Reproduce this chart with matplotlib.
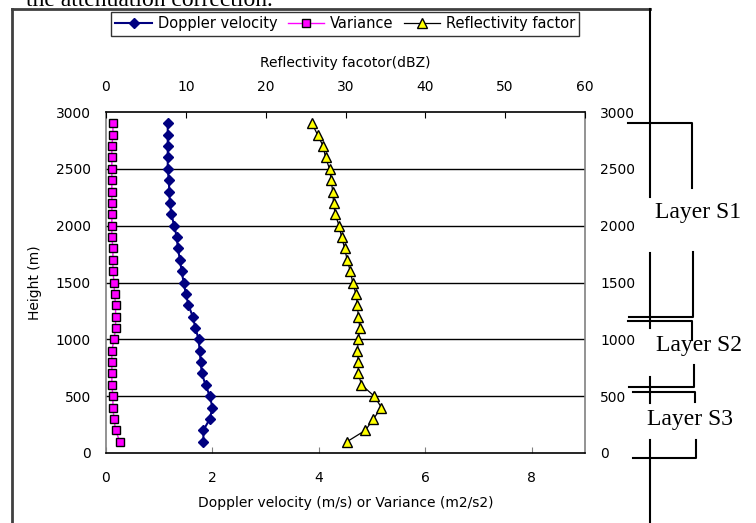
import numpy as np
import matplotlib
matplotlib.use("Agg")
import matplotlib.pyplot as plt
from matplotlib.lines import Line2D

# Heights of the range gates (m)
height = np.arange(2900, 0, -100)

# Doppler velocity (m/s), top to bottom
doppler = [1.16, 1.16, 1.16, 1.16, 1.16, 1.18, 1.19, 1.20, 1.23, 1.28,
           1.33, 1.35, 1.39, 1.42, 1.46, 1.50, 1.55, 1.63, 1.68, 1.74,
           1.76, 1.78, 1.80, 1.87, 1.95, 2.00, 1.95, 1.83, 1.83]

# Variance (m2/s2)
variance = [0.13, 0.13, 0.11, 0.11, 0.11, 0.11, 0.11, 0.11, 0.11, 0.11,
            0.11, 0.13, 0.13, 0.13, 0.15, 0.16, 0.18, 0.18, 0.18, 0.15,
            0.11, 0.11, 0.11, 0.11, 0.13, 0.13, 0.15, 0.18, 0.26]

# Reflectivity factor (dBZ)
reflectivity = [25.8, 26.5, 27.2, 27.5, 28.0, 28.2, 28.4, 28.5, 28.7, 29.2,
                29.5, 29.9, 30.2, 30.6, 30.9, 31.3, 31.5, 31.6, 31.8, 31.6,
                31.5, 31.6, 31.6, 32.0, 33.6, 34.5, 33.5, 32.5, 30.2]

bottom_ticks = [0, 2, 4, 6, 8]
top_ticks = [0, 10, 20, 30, 40, 50, 60]
height_ticks = [0, 500, 1000, 1500, 2000, 2500, 3000]

layers = ["Layer S1", "Layer S2", "Layer S3"]

W, H = 756, 523
fig = plt.figure(figsize=(W / 100, H / 100), dpi=100)
plt.rcParams["font.family"] = "DejaVu Sans"
FS = 10


def fx(x):
    return x / W


def fy(y):
    return 1 - y / H


ax = fig.add_axes([fx(106), fy(453), (585 - 106) / W, (453 - 112) / H])
ax.set_xlim(0, 9)
ax.set_ylim(0, 3000)

for y in height_ticks[1:-1]:
    ax.axhline(y, color="black", lw=1.0, zorder=1)

ax.plot(doppler, height, color="#000080", lw=1.5, marker="D", ms=5,
        mfc="#000080", mec="#000080", zorder=3, label="Doppler velocity")
ax.plot(variance, height, color="#FF00FF", lw=1.0, marker="s", ms=5.5,
        mfc="#FF00FF", mec="black", mew=1.0, zorder=3, label="Variance")

ax.set_xticks(bottom_ticks)
ax.set_yticks(height_ticks)
ax.tick_params(axis="x", direction="in", length=4, color="#808080",
               pad=13, labelsize=FS)
ax.tick_params(axis="y", length=0, pad=11, labelsize=FS,
               labelleft=True, labelright=True)
ax.set_xlabel("Doppler velocity (m/s) or Variance (m2/s2)", fontsize=FS,
              labelpad=8)
ax.set_ylabel("Height (m)", fontsize=FS, labelpad=10)
for side in ["left", "right"]:
    ax.spines[side].set_color("#808080")
    ax.spines[side].set_linewidth(1.2)
for side in ["top", "bottom"]:
    ax.spines[side].set_color("black")
    ax.spines[side].set_linewidth(1.2)

ax2 = ax.twiny()
ax2.set_xlim(0, 60)
ax2.plot(reflectivity, height, color="black", lw=0.9, marker="^", ms=6.5,
         mfc="#FFFF00", mec="black", mew=1.0, zorder=3,
         label="Reflectivity factor")
ax2.set_xticks(top_ticks)
ax2.tick_params(axis="x", direction="in", length=4, color="black",
                pad=13, labelsize=FS)
ax2.set_xlabel("Reflectivity facotor(dBZ)", fontsize=FS, labelpad=9)
for s in ax2.spines.values():
    s.set_visible(False)

handles = [ax.lines[-2], ax.lines[-1], ax2.lines[0]]
leg = fig.legend(handles, [h.get_label() for h in handles], ncol=3,
                 loc="upper left", bbox_to_anchor=(fx(111), fy(12)),
                 fontsize=10.5, frameon=True, fancybox=False, borderpad=0.3,
                 handlelength=2.5, handletextpad=0.4, columnspacing=0.7,
                 borderaxespad=0)
leg.get_frame().set_edgecolor("black")
leg.get_frame().set_linewidth(1.0)

# Page border and caption line above the chart
box = dict(color="#404040", lw=2)
fig.add_artist(Line2D([fx(12), fx(12)], [fy(9), fy(H)], **box))
fig.add_artist(Line2D([fx(12), fx(650)], [fy(9), fy(9)], **box))
for y0, y1 in [(9, 197), (253, 328), (377, 403), (440, H)]:
    fig.add_artist(Line2D([fx(650), fx(650)], [fy(y0), fy(y1)],
                          color="black", lw=1.5))

fig.text(fx(26), fy(6), "the attenuation correction.",
         family="Liberation Serif", fontsize=17, va="baseline", ha="left")

# Layer brackets on the right
brackets = [
    [(628, 123), (692, 123), (692, 188)],
    [(693, 252), (693, 317), (629, 317)],
    [(628, 321), (692, 321), (692, 340)],
    [(694, 365), (694, 387), (629, 387)],
    [(633, 392), (695, 392), (695, 402)],
    [(696, 440), (696, 458), (633, 458)],
]
for pts in brackets:
    xs = [fx(p[0]) for p in pts]
    ys = [fy(p[1]) for p in pts]
    fig.add_artist(Line2D(xs, ys, color="black", lw=1.5))

for name, (x, y) in zip(layers, [(698, 213), (699, 346), (690, 420)]):
    fig.text(fx(x), fy(y), name, family="Liberation Serif", fontsize=17,
             ha="center", va="center")

fig.savefig("out.png", dpi=100)
